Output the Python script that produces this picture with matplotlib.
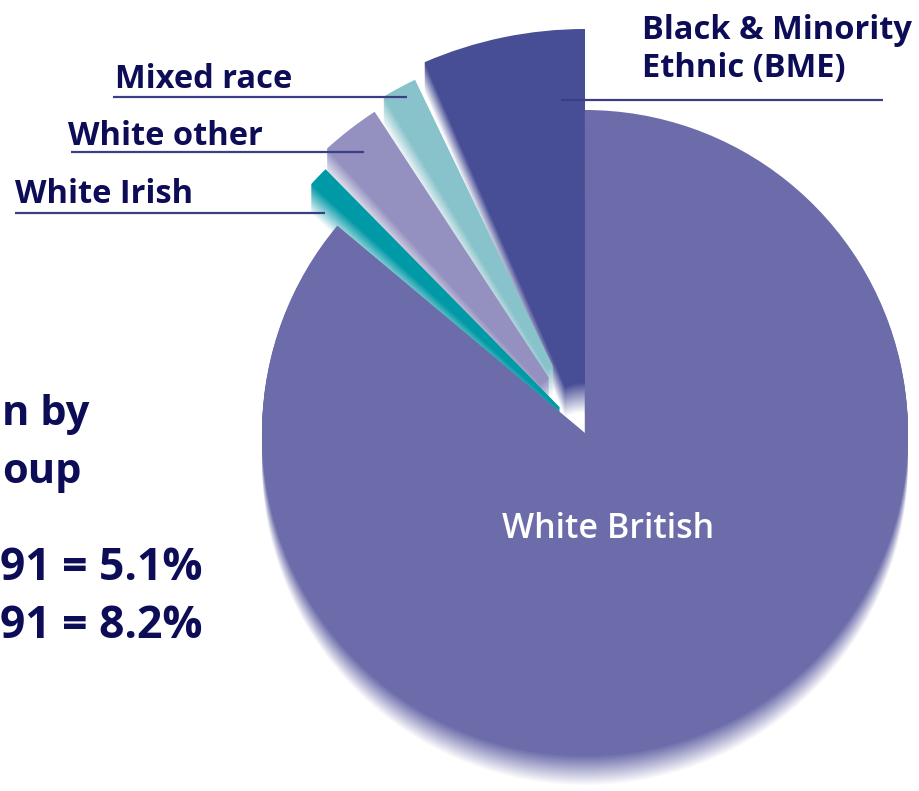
import numpy as np
import matplotlib.pyplot as plt
from matplotlib.patches import Wedge
from matplotlib.colors import to_rgb

#-----------------------
# Data
#-----------------------
groups = ["Black & Minority\nEthnic (BME)", "Mixed race", "White other",
          "White Irish", "White British"]
share = [6.5, 1.45, 2.5, 0.9, 86.1]          # % of the pie
colours = ["#484e96", "#88c3cb", "#9490c0", "#0099a6", "#6c6cab"]
side_text = ["n by", "oup", "91 = 5.1%", "91 = 8.2%"]   # cut off by the frame

#-----------------------
# Layout (pixels, y measured from top)
#-----------------------
W, H = 919, 791
cx, cy = 585, H - 433
radius = [404, 392, 384, 370, 323]
inner = [50, 74, 66, 36, 0]
gap = 2.3
depth = 30
navy = "#0d0d57"
line_col = "#3b3d85"
font = "Open Sans"

fig = plt.figure(figsize=(W / 100, H / 100), dpi=100)
ax = fig.add_axes([0, 0, 1, 1])
ax.set_xlim(0, W)
ax.set_ylim(0, H)
ax.set_aspect("equal")
ax.axis("off")

# angles of each slice, starting at 12 o'clock going anticlockwise
angles = []
start = 90
for s in share:
    angles.append((start, start + s * 3.6))
    start = start + s * 3.6 + gap

# extruded sides fading to white
white = np.array([1.0, 1.0, 1.0])
for k in range(depth, 0, -1):
    t = k / depth
    for (t1, t2), r, r0, c in zip(angles, radius, inner, colours):
        col = (1 - t) * np.array(to_rgb(c)) + t * white
        ax.add_patch(Wedge((cx, cy - k), r, t1, t2, width=r - r0,
                           facecolor=col, edgecolor="none", lw=0))

# top faces
for (t1, t2), r, r0, c in zip(angles, radius, inner, colours):
    ax.add_patch(Wedge((cx, cy), r, t1, t2, width=r - r0,
                       facecolor=c, edgecolor="none", lw=0))

# labels and leader lines
label_pos = [(642, 77), (115, 88), (68, 145), (15, 203)]
leader = [(561, 883, 100), (113, 407, 97), (71, 364, 152), (15, 325, 213)]
for name, (tx, ty), (x0, x1, ly) in zip(groups[:4], label_pos, leader):
    ax.text(tx, H - ty, name, ha="left", va="baseline", fontsize=23.5,
            fontweight="bold", color=navy, family=font, linespacing=1.2)
    ax.plot([x0, x1], [H - ly, H - ly], color=line_col, lw=1.6,
            solid_capstyle="butt")

ax.text(608, H - 538, groups[4], ha="center", va="baseline", fontsize=24.5,
        fontweight="semibold", color="white", family=font)

# title block on the left
side_pos = [(2, 425, 30), (2, 483, 30), (203, 580, 32), (203, 638, 32)]
side_ha = ["left", "left", "right", "right"]
for s, (tx, ty, fs), ha in zip(side_text, side_pos, side_ha):
    ax.text(tx, H - ty, s, ha=ha, va="baseline", fontsize=fs,
            fontweight="bold", color=navy, family=font)

fig.savefig("out.png", dpi=100)
